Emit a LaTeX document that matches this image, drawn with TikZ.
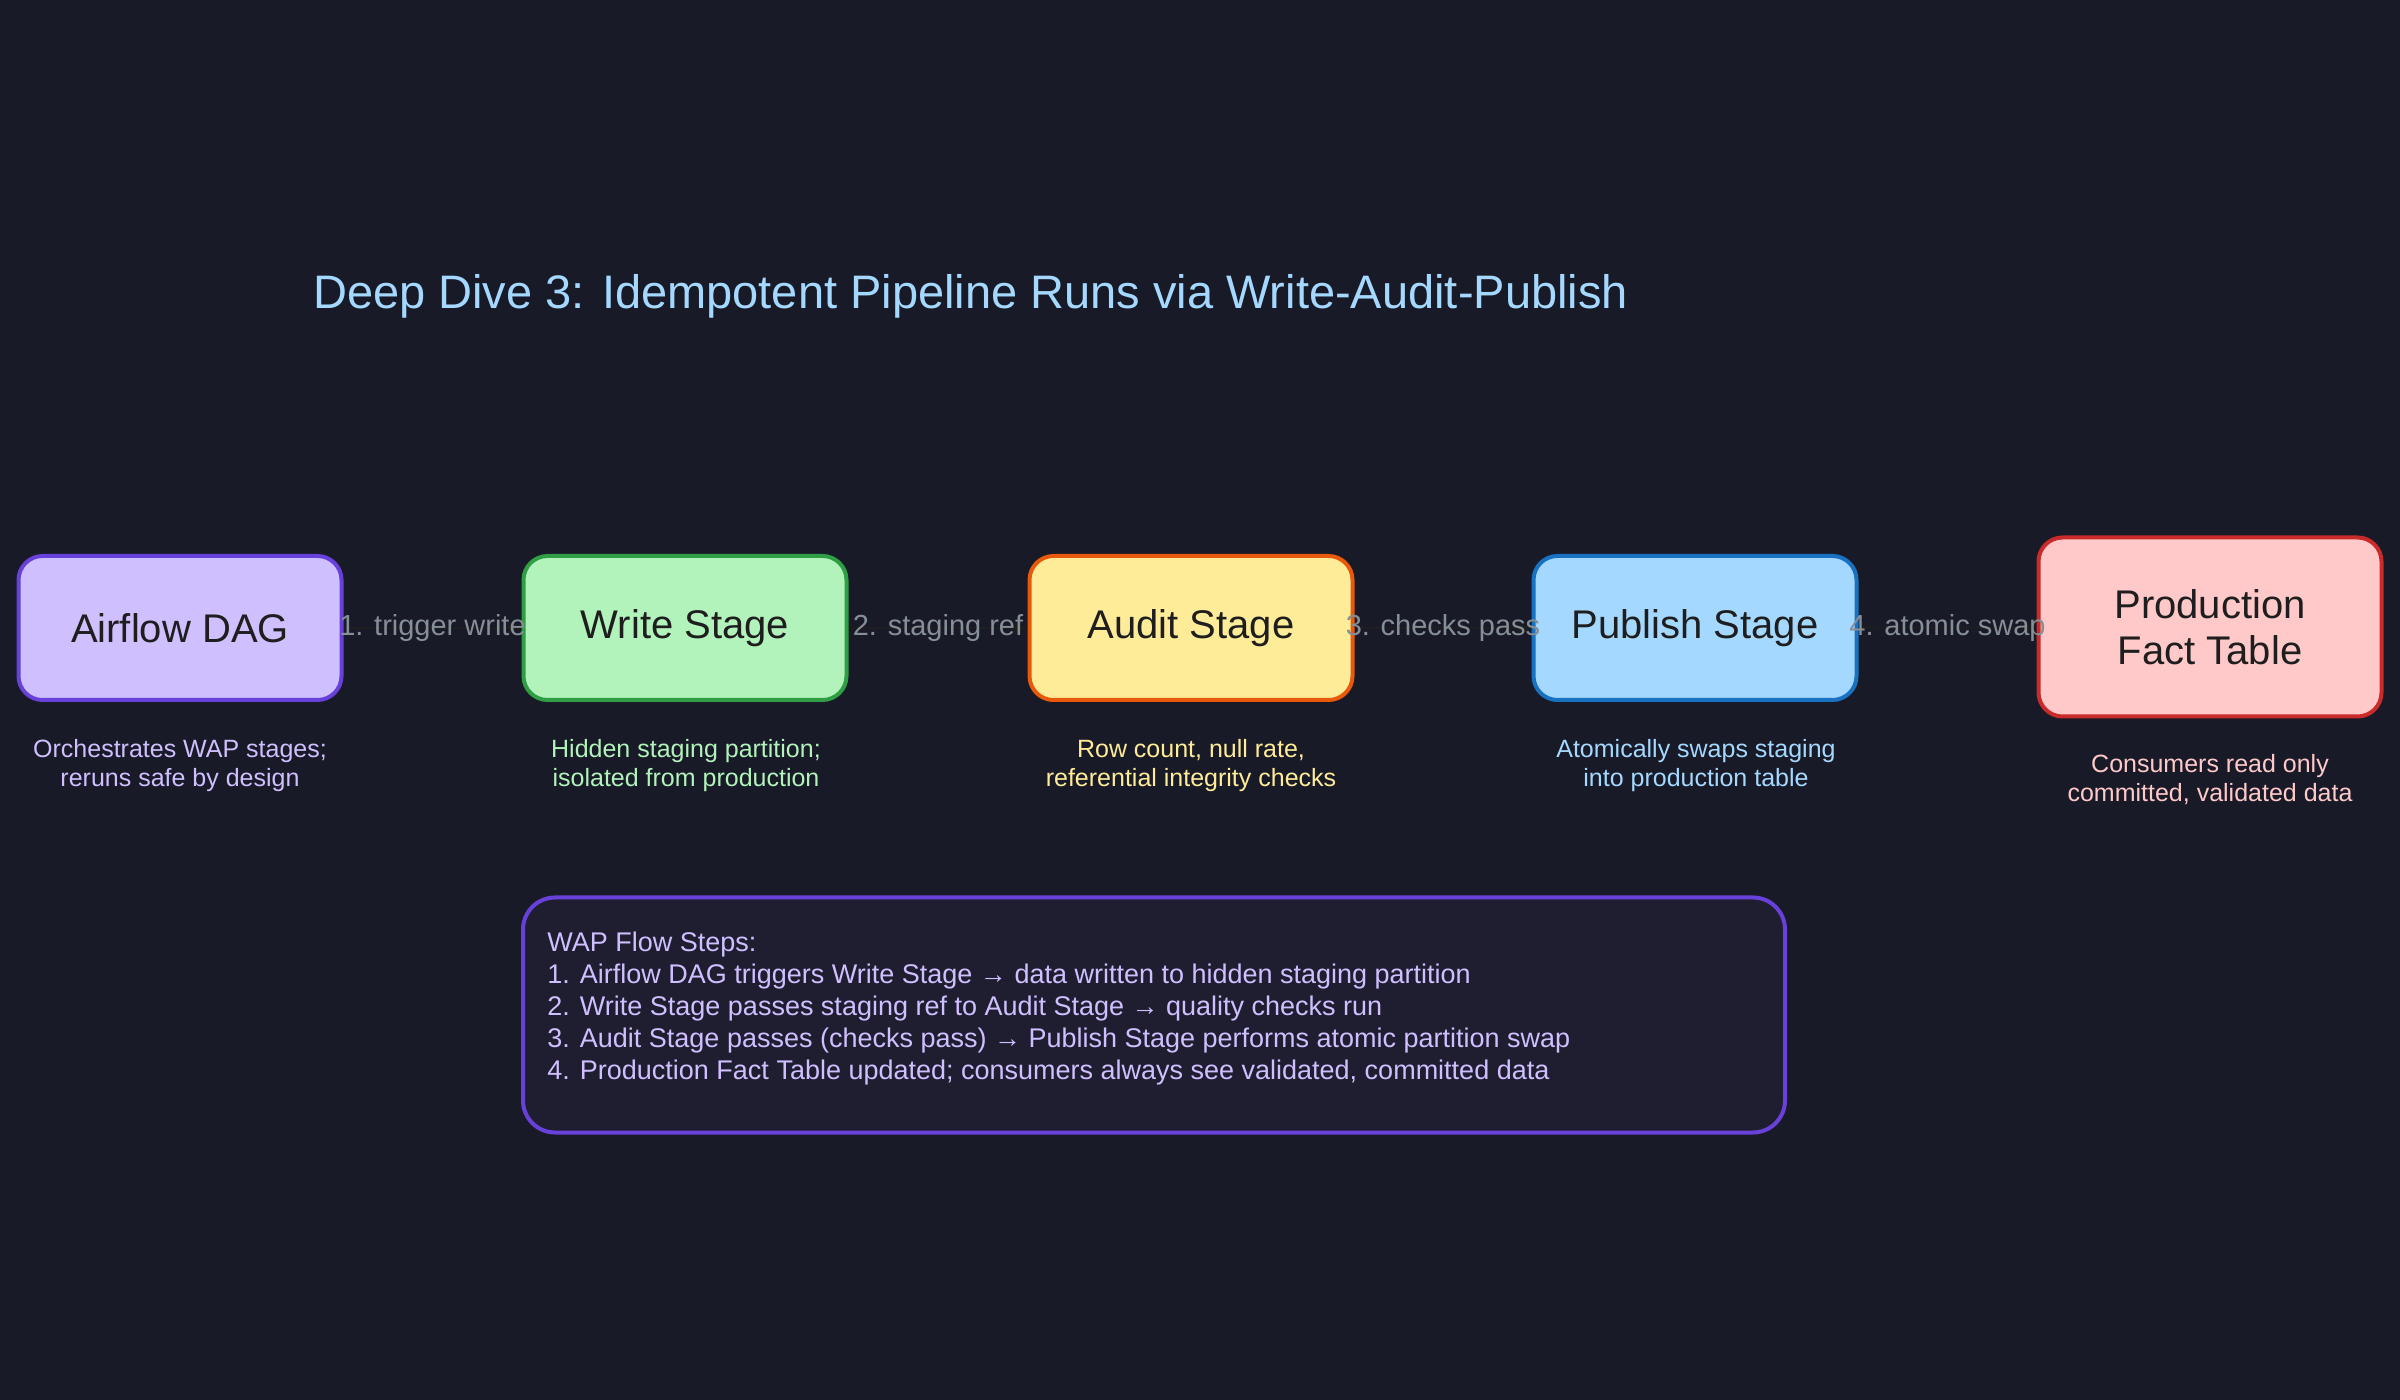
\documentclass[tikz,border=0pt]{standalone}
\usepackage{fontspec}
\setmainfont{Liberation Sans}
\usetikzlibrary{arrows.meta, positioning}

\definecolor{bg}{HTML}{181A27}
\definecolor{ink}{HTML}{1E1E1E}
\definecolor{gr}{HTML}{868E96}
\definecolor{p1}{HTML}{D0BFFF}
\definecolor{p2}{HTML}{6741D9}
\definecolor{g1}{HTML}{B2F2BB}
\definecolor{g2}{HTML}{2F9E44}
\definecolor{y1}{HTML}{FFEC99}
\definecolor{y2}{HTML}{E8590C}
\definecolor{b1}{HTML}{A5D8FF}
\definecolor{b2}{HTML}{1971C2}
\definecolor{r1}{HTML}{FFC9C9}
\definecolor{r2}{HTML}{C92A2A}
\definecolor{nf}{HTML}{1F1E30}

\tikzset{
  stagebox/.style={draw=#1, line width=2pt, rounded corners=12pt,
    minimum width=161.5pt, minimum height=72pt, text=ink,
    font=\fontsize{20}{22}\selectfont, align=center},
  desc/.style={font=\fontsize{12.5}{14.5}\selectfont, align=center, text=#1},
  edgelabel/.style={font=\fontsize{14.5}{16}\selectfont, text=gr, inner sep=0pt},
  flow/.style={draw=ink, line width=1pt, -{Stealth[length=8pt]}}
}

\begin{document}
\begin{tikzpicture}[x=0.5pt, y=-0.5pt]
	\fill[bg] (0,0) rectangle (2400,1400);
	\useasboundingbox (0,0) rectangle (2400,1400);

	\node[text=b1, font=\fontsize{23.5}{26}\selectfont, anchor=west] (title) at (306, 296)
		{Deep Dive 3: Idempotent Pipeline Runs via Write-Audit-Publish};

	% stages
	\node[stagebox=p2, fill=p1] (dag) at (180, 628) {Airflow DAG};
	\node[stagebox=g2, fill=g1] (write) at (685, 628) {Write Stage};
	\node[stagebox=y2, fill=y1] (audit) at (1191, 628) {Audit Stage};
	\node[stagebox=b2, fill=b1] (publish) at (1695, 628) {Publish Stage};
	\node[stagebox=r2, fill=r1, minimum width=171.5pt, minimum height=89.5pt] (fact) at (2210, 627)
		{Production\\[1pt]Fact Table};

	\draw[flow] (dag) -- node[edgelabel] {1. trigger write} (write);
	\draw[flow] (write) -- node[edgelabel] {2. staging ref} (audit);
	\draw[flow] (audit) -- node[edgelabel] {3. checks pass} (publish);
	\draw[flow] (publish) -- node[edgelabel] {4. atomic swap} (fact);

	% notes under the stages
	\node[desc=p1] (dagnote) at (180, 766) {Orchestrates WAP stages;\\reruns safe by design};
	\node[desc=g1] (writenote) at (686, 766) {Hidden staging partition;\\isolated from production};
	\node[desc=y1] (auditnote) at (1191, 766) {Row count, null rate,\\referential integrity checks};
	\node[desc=b1] (publishnote) at (1696, 766) {Atomically swaps staging\\into production table};
	\node[desc=r1] (factnote) at (2210, 780) {Consumers read only\\committed, validated data};

	% steps box
	\node[draw=p2, fill=nf, line width=2pt, rounded corners=16pt,
		minimum width=631pt, minimum height=117.5pt] (steps) at (1154, 1015) {};
	\node[anchor=north west, text=p1, align=left, inner sep=0pt,
		font=\fontsize{13.5}{16}\selectfont] (stepstext) at ([xshift=13pt, yshift=-18pt]steps.north west)
		{WAP Flow Steps:\\
		 1. Airflow DAG triggers Write Stage → data written to hidden staging partition\\
		 2. Write Stage passes staging ref to Audit Stage → quality checks run\\
		 3. Audit Stage passes (checks pass) → Publish Stage performs atomic partition swap\\
		 4. Production Fact Table updated; consumers always see validated, committed data};
\end{tikzpicture}
\end{document}
